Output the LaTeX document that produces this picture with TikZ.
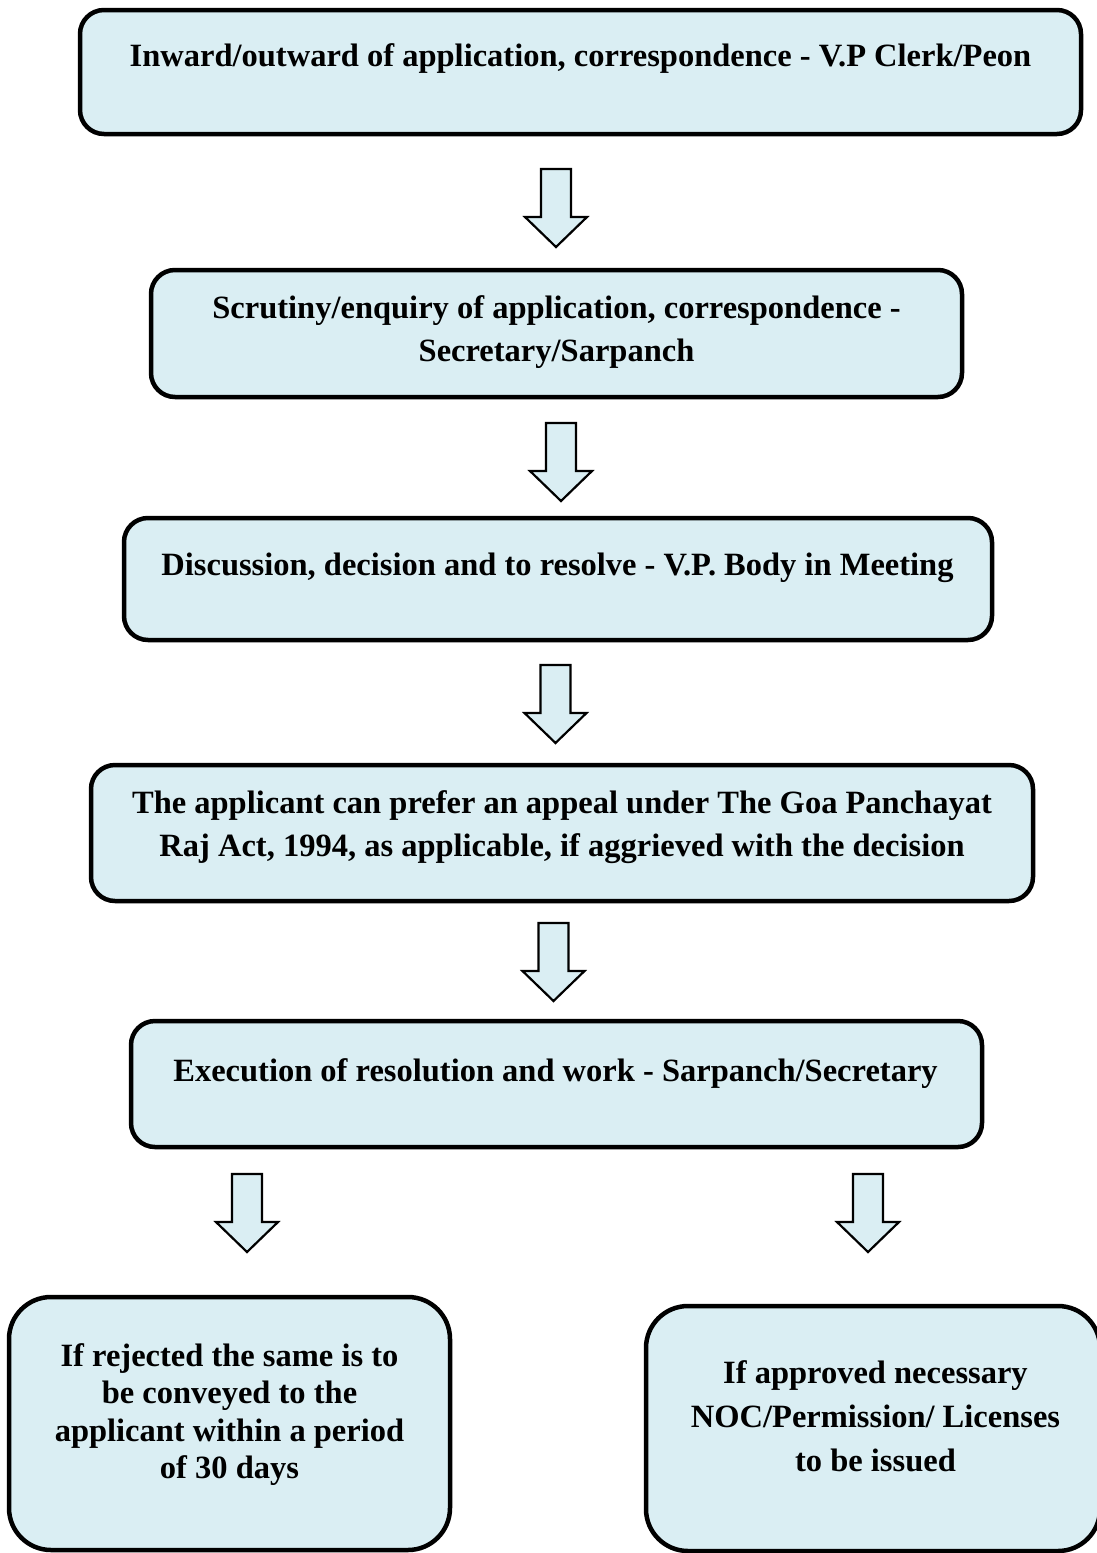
\documentclass[tikz,border=0pt]{standalone}
\usepackage{fontspec}
\setmainfont{Liberation Serif}
\definecolor{boxfill}{HTML}{DAEEF3}
\begin{document}
\begin{tikzpicture}[x=1pt,y=-1pt,
  box/.style={draw=black, line width=4.5pt, fill=boxfill, rectangle, rounded corners=24pt, inner sep=0pt},
  bigbox/.style={box, rounded corners=42pt},
  txt/.style={font=\bfseries\fontsize{32.5}{43.4}\selectfont, align=center, inner sep=0pt, text=black, anchor=base},
  blockarrow/.pic={\draw[line width=2.2pt, fill=boxfill, line join=miter] (-15,0) -- (15,0) -- (15,48) -- (31,48) -- (0,78) -- (-31,48) -- (-15,48) -- cycle;}
]
\useasboundingbox (0,0) rectangle (1096,1553);
\fill[white] (0,0) rectangle (1096,1553);

\node[box, minimum width=1001pt, minimum height=124pt] (b1) at (580.5,72) {};
\node[box, minimum width=811pt, minimum height=127pt] (b2) at (556.5,333.5) {};
\node[box, minimum width=868pt, minimum height=122pt] (b3) at (558,579) {};
\node[box, minimum width=942pt, minimum height=136pt] (b4) at (562,833) {};
\node[box, minimum width=851pt, minimum height=126pt] (b5) at (556.5,1084) {};
\node[bigbox, minimum width=441pt, minimum height=253pt] (b6) at (229.5,1423.5) {};
\node[bigbox, minimum width=454pt, minimum height=245pt] (b7) at (873,1428.5) {};

% base anchor = baseline of the last line
\node[txt] (t1) at (580.5,66) {Inward/outward of application, correspondence - V.P Clerk/Peon};
\node[txt] (t2) at (556.5,361.5) {Scrutiny/enquiry of application, correspondence -\\Secretary/Sarpanch};
\node[txt] (t3) at (557.5,575) {Discussion, decision and to resolve - V.P. Body in Meeting};
\node[txt] (t4) at (562,856.7) {The applicant can prefer an appeal under The Goa Panchayat\\Raj Act, 1994, as applicable, if aggrieved with the decision};
\node[txt] (t5) at (555.5,1081.5) {Execution of resolution and work - Sarpanch/Secretary};
\node[txt, font=\bfseries\fontsize{32.5}{37.2}\selectfont] (t6) at (229.5,1478.3) {If rejected the same is to\\be conveyed to the\\applicant within a period\\of 30 days};
\node[txt, font=\bfseries\fontsize{32.5}{44.3}\selectfont] (t7) at (875.5,1471.6) {If approved necessary\\NOC/Permission/ Licenses\\to be issued};

\pic (a1) at (556,169) {blockarrow};
\pic (a2) at (561,423) {blockarrow};
\pic (a3) at (555.5,665) {blockarrow};
\pic (a4) at (553.5,923) {blockarrow};
\pic (a5) at (247,1174) {blockarrow};
\pic (a6) at (868,1174) {blockarrow};
\end{tikzpicture}
\end{document}
